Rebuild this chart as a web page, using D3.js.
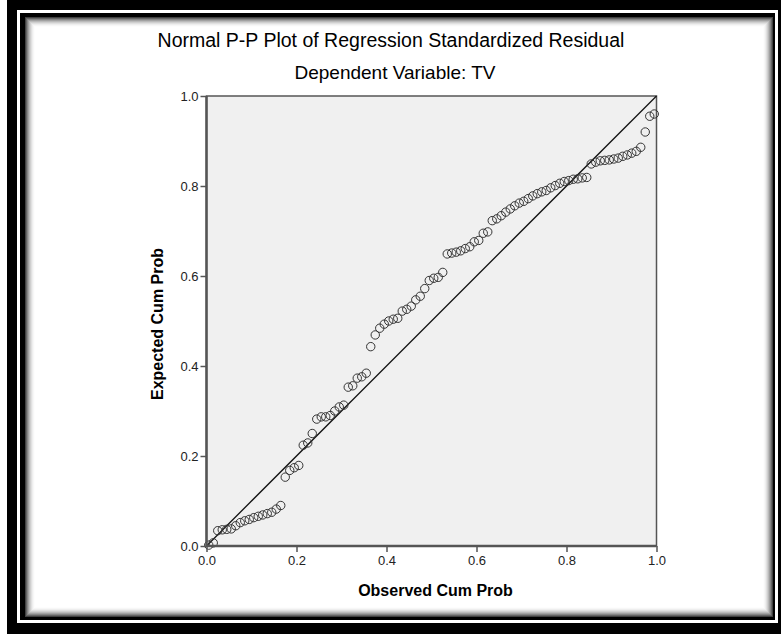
<!DOCTYPE html>
<html>
<head>
<meta charset="utf-8">
<script src="https://cdn.jsdelivr.net/npm/d3@7"></script>
<style>
    body { margin: 0; background: #fff; }
    svg { display: block; font-family: Arial, "Liberation Sans", sans-serif; }
</style>
</head>
<body>
<div id="container"></div>
<script>
// observed vs expected cumulative probability
const observedCumProb = [
    0.005, 0.015, 0.025, 0.035, 0.045, 0.055, 0.065, 0.075, 0.085, 0.095,
    0.105, 0.115, 0.125, 0.135, 0.145, 0.155, 0.165, 0.175, 0.185, 0.195,
    0.205, 0.215, 0.225, 0.235, 0.245, 0.255, 0.265, 0.275, 0.285, 0.295,
    0.305, 0.315, 0.325, 0.335, 0.345, 0.355, 0.365, 0.375, 0.385, 0.395,
    0.405, 0.415, 0.425, 0.435, 0.445, 0.455, 0.465, 0.475, 0.485, 0.495,
    0.505, 0.515, 0.525, 0.535, 0.545, 0.555, 0.565, 0.575, 0.585, 0.595,
    0.605, 0.615, 0.625, 0.635, 0.645, 0.655, 0.665, 0.675, 0.685, 0.695,
    0.705, 0.715, 0.725, 0.735, 0.745, 0.755, 0.765, 0.775, 0.785, 0.795,
    0.805, 0.815, 0.825, 0.835, 0.845, 0.855, 0.865, 0.875, 0.885, 0.895,
    0.905, 0.915, 0.925, 0.935, 0.945, 0.955, 0.965, 0.975, 0.985, 0.995
]
const expectedCumProb = [
    0.002, 0.007, 0.034, 0.036, 0.037, 0.038, 0.045, 0.052, 0.056, 0.059,
    0.063, 0.066, 0.069, 0.072, 0.075, 0.082, 0.090, 0.153, 0.168, 0.174,
    0.179, 0.224, 0.229, 0.250, 0.282, 0.287, 0.287, 0.290, 0.300, 0.309,
    0.313, 0.353, 0.356, 0.373, 0.376, 0.384, 0.443, 0.469, 0.484, 0.493,
    0.500, 0.504, 0.506, 0.522, 0.526, 0.533, 0.547, 0.555, 0.572, 0.590,
    0.595, 0.597, 0.608, 0.649, 0.651, 0.653, 0.656, 0.661, 0.665, 0.676,
    0.679, 0.695, 0.698, 0.723, 0.727, 0.734, 0.742, 0.749, 0.756, 0.762,
    0.766, 0.772, 0.778, 0.783, 0.787, 0.790, 0.796, 0.801, 0.806, 0.810,
    0.812, 0.815, 0.816, 0.818, 0.819, 0.849, 0.853, 0.856, 0.857, 0.858,
    0.860, 0.862, 0.866, 0.869, 0.873, 0.877, 0.886, 0.920, 0.955, 0.960
]
const tickValues = [0.0, 0.2, 0.4, 0.6, 0.8, 1.0]
const titleText = "Normal P-P Plot of Regression Standardized Residual"
const subtitleText = "Dependent Variable: TV"
const xLabel = "Observed Cum Prob"
const yLabel = "Expected Cum Prob"

const chart = {
    width: 781,
    height: 634,
    plot: { left: 206.5, top: 96, size: 450 }
}

const svg = d3.select("#container")
    .append("svg")
    .attr("width", chart.width)
    .attr("height", chart.height)

/********************* Frame ************************/

function drawFrame() {
    svg.append("rect").attr("width", chart.width).attr("height", chart.height).attr("fill", "#fff")
    svg.append("rect").attr("x", 7).attr("y", 0).attr("width", 774).attr("height", 634).attr("fill", "#000")
    svg.append("rect").attr("x", 17).attr("y", 10).attr("width", 761).attr("height", 613).attr("fill", "#fff")
    svg.append("rect").attr("x", 20).attr("y", 13).attr("width", 755).attr("height", 607).attr("fill", "#000")
    svg.append("rect").attr("x", 25).attr("y", 17).attr("width", 748).attr("height", 600).attr("fill", "#fff")

    // inner shadow, fading inward
    const steps = d3.range(10)
    svg.append("g")
        .selectAll("rect")
        .data(steps).enter()
        .append("rect")
        .attr("x", d => 25 + d + 0.5)
        .attr("y", d => 17 + d + 0.5)
        .attr("width", d => 748 - 2 * d - 1)
        .attr("height", d => 600 - 2 * d - 1)
        .attr("fill", "none")
        .attr("stroke", "#000")
        .attr("stroke-opacity", d => 0.75 * Math.pow(1 - d / 10, 2))
}

/********************* Plot ************************/

function drawPlot() {
    const p = chart.plot
    const x = d3.scaleLinear().domain([0, 1]).range([p.left, p.left + p.size])
    const y = d3.scaleLinear().domain([0, 1]).range([p.top + p.size, p.top])

    svg.append("rect")
        .attr("x", p.left).attr("y", p.top)
        .attr("width", p.size).attr("height", p.size)
        .attr("fill", "#f0f0f0")
        .attr("stroke", "#555")
        .attr("stroke-width", 1.5)

    // reference diagonal
    svg.append("line")
        .attr("x1", x(0)).attr("y1", y(0))
        .attr("x2", x(1)).attr("y2", y(1))
        .attr("stroke", "#111")
        .attr("stroke-width", 1.3)

    svg.append("g")
        .selectAll("circle")
        .data(d3.zip(observedCumProb, expectedCumProb)).enter()
        .append("circle")
        .attr("cx", d => x(d[0]))
        .attr("cy", d => y(d[1]))
        .attr("r", 4.2)
        .attr("fill", "none")
        .attr("stroke", "#333")
        .attr("stroke-width", 1)

    const xAxis = svg.append("g")
        .attr("transform", `translate(0,${p.top + p.size})`)
        .call(d3.axisBottom(x).tickValues(tickValues).tickFormat(d3.format(".1f")).tickSize(6).tickPadding(4))
    const yAxis = svg.append("g")
        .attr("transform", `translate(${p.left},0)`)
        .call(d3.axisLeft(y).tickValues(tickValues).tickFormat(d3.format(".1f")).tickSize(6).tickPadding(2))

    ;[xAxis, yAxis].forEach(axis => {
        axis.select(".domain").attr("stroke", "#555").attr("stroke-width", 2.5)
        axis.selectAll(".tick line").attr("stroke", "#555").attr("stroke-width", 1.5)
        axis.selectAll(".tick text")
            .attr("fill", "#222")
            .style("font-family", "Arial, 'Liberation Sans', sans-serif")
            .style("font-size", "13px")
    })
    xAxis.select(".domain").attr("d", `M${x(0)},0H${x(1)}`)
    yAxis.select(".domain").attr("d", `M0,${y(0)}V${y(1)}`)

    svg.append("text")
        .attr("x", x(0.5) + 4)
        .attr("y", 596)
        .attr("text-anchor", "middle")
        .style("font-size", "16px")
        .style("font-weight", "bold")
        .text(xLabel)

    svg.append("text")
        .attr("transform", `translate(163,${y(0.5) + 3}) rotate(-90)`)
        .attr("text-anchor", "middle")
        .style("font-size", "16px")
        .style("font-weight", "bold")
        .text(yLabel)
}

function drawTitles() {
    svg.append("text")
        .attr("x", 391).attr("y", 47)
        .attr("text-anchor", "middle")
        .style("font-size", "19.5px")
        .text(titleText)
    svg.append("text")
        .attr("x", 395).attr("y", 79)
        .attr("text-anchor", "middle")
        .style("font-size", "19px")
        .text(subtitleText)
}

drawFrame()
drawPlot()
drawTitles()
</script>
</body>
</html>
